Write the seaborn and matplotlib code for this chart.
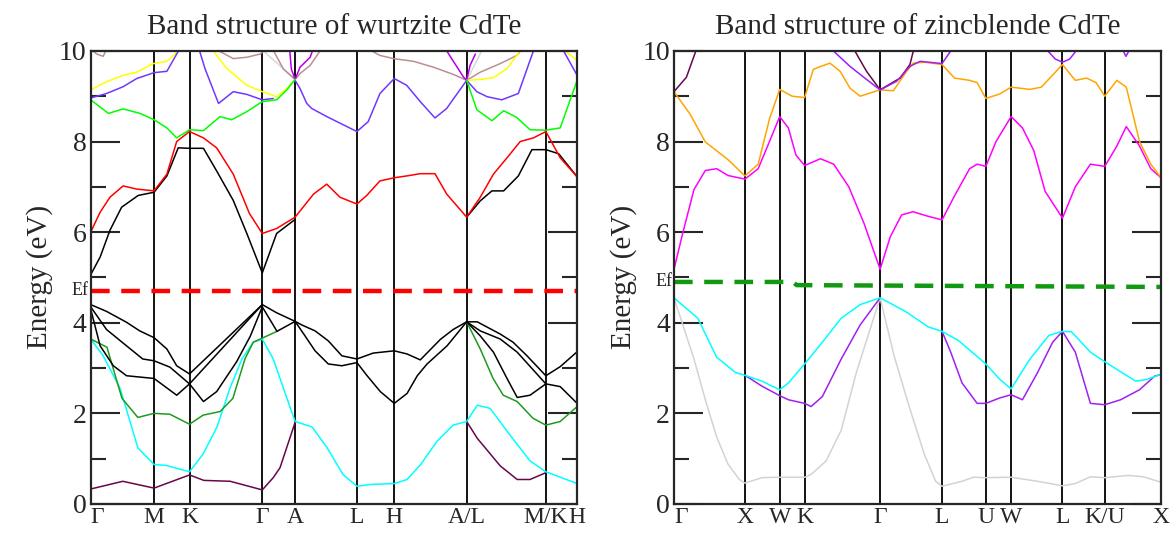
import matplotlib
matplotlib.use("Agg")
import matplotlib.pyplot as plt
import matplotlib.transforms as mtransforms
from matplotlib.ticker import MultipleLocator
import seaborn as sns

# ---------------- wurtzite (left panel) ----------------
wz_kpts = [0, 1.68, 2.62, 4.55, 5.42, 7.06, 8.05, 9.97, 12.07, 12.9]
wz_klabels = ["Γ", "M", "K", "Γ", "A", "L", "H", "A/L", "M/K", "H"]
wz_ef = 4.71

wz_maroon_a_k = [0, 0.85, 1.68, 2.62, 3.0, 3.7, 4.55, 4.84, 5.02, 5.42]
wz_maroon_a_E = [0.33, 0.5, 0.35, 0.64, 0.52, 0.5, 0.31, 0.58, 0.8, 1.8]
wz_maroon_b_k = [9.97, 10.25, 10.86, 11.31, 11.65, 12.07]
wz_maroon_b_E = [1.82, 1.45, 0.84, 0.54, 0.54, 0.69]

wz_cyan_k = [0, 0.33, 0.78, 1.25, 1.68, 2.0, 2.62, 2.98, 3.35, 3.69, 4.01, 4.31, 4.55,
             4.84, 5.02, 5.42, 5.87, 6.27, 6.69, 7.06, 7.41, 8.05, 8.39, 8.75, 9.19,
             9.61, 9.97, 10.25, 10.59, 11.12, 11.65, 12.07, 12.9]
wz_cyan_E = [3.64, 3.27, 2.55, 1.24, 0.87, 0.85, 0.71, 1.1, 1.7, 2.55, 3.2, 3.57, 3.64,
             3.2, 2.77, 1.82, 1.7, 1.24, 0.65, 0.39, 0.43, 0.45, 0.54, 0.87, 1.39,
             1.74, 1.82, 2.18, 2.11, 1.52, 0.95, 0.71, 0.45]

wz_dgreen_a_k = [0, 0.43, 0.83, 1.25, 1.68, 2.1, 2.62, 2.98, 3.43, 3.77, 4.09, 4.31, 4.55, 4.94]
wz_dgreen_a_E = [3.64, 3.46, 2.33, 1.91, 2.0, 1.98, 1.76, 1.96, 2.04, 2.33, 3.2, 3.57, 3.66, 3.81]
wz_dgreen_b_k = [9.97, 10.33, 10.67, 10.94, 11.31, 11.73, 12.07, 12.45, 12.9]
wz_dgreen_b_E = [4.02, 3.42, 2.77, 2.4, 2.26, 1.89, 1.74, 1.82, 2.15]

# valence black bands
wz_v1_k = [0, 0.42, 0.95, 1.3, 1.68, 2.02, 2.28, 2.62, 4.55]
wz_v1_E = [4.4, 4.25, 4.01, 3.82, 3.67, 3.42, 3.05, 2.87, 4.4]
wz_v2_k = [0, 0.42, 0.95, 1.38, 1.68, 2.1, 2.62, 4.55]
wz_v2_E = [4.35, 3.85, 3.49, 3.2, 3.16, 3.02, 2.65, 4.4]
wz_v3_k = [0, 0.25, 0.6, 0.95, 1.68, 2.28, 2.62, 2.99, 3.34, 3.87, 4.23, 4.55]
wz_v3_E = [4.3, 3.49, 3.05, 2.83, 2.77, 2.4, 2.65, 2.26, 2.48, 3.14, 3.7, 4.35]
wz_g1_k = [4.55, 4.93, 5.42]
wz_g1_E = [4.4, 4.22, 4.03]
wz_g2_k = [4.55, 4.94, 5.42]
wz_g2_E = [4.35, 3.81, 4.03]
wz_a1_k = [5.42, 5.6, 5.95, 6.3, 6.66, 7.06, 7.49, 8.05, 8.39, 8.74, 9.27, 9.61, 9.97]
wz_a1_E = [4.03, 3.95, 3.82, 3.6, 3.27, 3.2, 3.33, 3.38, 3.31, 3.18, 3.63, 3.85, 4.02]
wz_a2_k = [5.42, 5.65, 5.95, 6.3, 6.66, 7.06, 7.33, 7.68, 8.05, 8.39, 8.66, 8.92, 9.45, 9.97]
wz_a2_E = [4.03, 3.75, 3.38, 3.09, 3.05, 3.12, 2.83, 2.48, 2.22, 2.44, 2.83, 3.09, 3.49, 4.02]
wz_m1_k = [9.97, 10.25, 10.52, 10.86, 11.2, 11.57, 12.07, 12.45, 12.9]
wz_m1_E = [4.02, 4.02, 3.9, 3.75, 3.57, 3.27, 2.83, 3.03, 3.36]
wz_m2_k = [9.97, 10.33, 10.86, 11.31, 12.07, 12.45, 12.9]
wz_m2_E = [4.02, 3.82, 3.64, 3.35, 2.65, 2.59, 2.22]
wz_m3_k = [9.97, 10.33, 10.68, 11.04, 11.31, 11.65, 12.07]
wz_m3_E = [4.02, 3.71, 3.35, 2.77, 2.35, 2.4, 2.65]

# conduction bands
wz_c1_k = [0, 0.25, 0.51, 0.82, 1.26, 1.68, 2.02, 2.32, 2.62, 2.99, 3.34, 3.78, 4.14, 4.55, 4.93, 5.42]
wz_c1_E = [5.06, 5.45, 6.04, 6.55, 6.81, 6.88, 7.24, 7.86, 7.85, 7.85, 7.35, 6.7, 5.97, 5.1, 5.97, 6.28]
wz_c2_k = [9.97, 10.33, 10.64, 10.95, 11.34, 11.7, 12.07, 12.41, 12.9]
wz_c2_E = [6.33, 6.69, 6.91, 6.91, 7.24, 7.82, 7.82, 7.73, 7.22]
wz_red_k = [0, 0.25, 0.51, 0.86, 1.22, 1.68, 2.02, 2.28, 2.62, 2.99, 3.34, 3.78, 4.21, 4.55,
            4.93, 5.42, 5.91, 6.26, 6.61, 7.06, 7.32, 7.67, 8.05, 8.38, 8.74, 9.13, 9.44,
            9.97, 10.33, 10.68, 11.04, 11.39, 11.74, 12.07, 12.45, 12.9]
wz_red_E = [6.0, 6.44, 6.77, 7.02, 6.95, 6.91, 7.28, 8.0, 8.22, 8.08, 7.86, 7.28, 6.41, 5.97,
            6.08, 6.33, 6.84, 7.06, 6.77, 6.62, 6.81, 7.13, 7.2, 7.24, 7.29, 7.29, 6.84,
            6.33, 6.77, 7.28, 7.64, 8.0, 8.08, 8.22, 7.64, 7.22]
wz_green_a_k = [0, 0.47, 0.86, 1.31, 1.68, 2.02, 2.28, 2.62, 2.99, 3.43, 3.74, 4.14, 4.55, 4.93, 5.2, 5.42]
wz_green_a_E = [8.92, 8.62, 8.72, 8.62, 8.48, 8.3, 8.08, 8.26, 8.24, 8.55, 8.48, 8.66, 8.88, 8.92, 9.14, 9.37]
wz_green_b_k = [9.97, 10.24, 10.64, 10.95, 11.3, 11.65, 12.07, 12.45, 12.9]
wz_green_b_E = [9.35, 8.7, 8.46, 8.68, 8.53, 8.26, 8.25, 8.3, 9.35]
wz_blue_a_k = [0, 0.42, 0.86, 1.22, 1.68, 2.02, 2.28, 2.4]
wz_blue_a_E = [8.96, 9.06, 9.21, 9.39, 9.52, 9.55, 9.93, 10.1]
wz_blue_b_k = [2.85, 3.03, 3.39, 3.78, 4.14, 4.55, 4.84]
wz_blue_b_E = [10.1, 9.61, 8.84, 9.1, 9.04, 8.92, 8.95]
wz_blue_c_k = [5.42, 5.55, 5.73, 5.86, 6.26, 7.06, 7.36, 7.67, 8.05, 8.38, 8.74, 9.13,
               9.44, 9.97, 10.24, 10.51, 10.9, 11.34, 11.74, 11.8]
wz_blue_c_E = [9.35, 9.17, 8.84, 8.73, 8.55, 8.22, 8.44, 9.06, 9.39, 9.24, 8.88, 8.52,
               8.73, 9.35, 9.1, 8.99, 8.92, 9.06, 10.0, 10.1]
wz_blue_d_k = [12.54, 12.9]
wz_blue_d_E = [10.0, 9.46]
wz_yellow_a_k = [0, 0.42, 0.86, 1.22, 1.66, 2.02, 2.24, 2.3]
wz_yellow_a_E = [9.14, 9.32, 9.46, 9.53, 9.72, 9.77, 9.93, 10.1]
wz_yellow_b_k = [3.15, 3.25, 3.61, 4.14, 4.55, 4.93, 5.2, 5.42]
wz_yellow_b_E = [10.1, 10.0, 9.61, 9.24, 9.1, 8.99, 9.17, 9.37]
wz_yellow_c_k = [9.97, 10.33, 10.68, 11.04, 11.3, 11.4]
wz_yellow_c_E = [9.35, 9.37, 9.41, 9.61, 9.9, 10.05]
wz_yellow_d_k = [12.58, 12.9]
wz_yellow_d_E = [10.0, 9.79]
wz_brown_a_k = [0.06, 0.16, 0.33, 0.4]
wz_brown_a_E = [10.0, 9.93, 9.88, 10.0]
wz_brown_b_k = [3.4, 3.78, 4.14, 4.49, 4.6]
wz_brown_b_E = [10.0, 9.83, 9.86, 9.93, 10.0]
wz_brown_c_k = [4.85, 5.11, 5.42, 5.55, 5.82, 6.0, 6.08]
wz_brown_c_E = [10.0, 9.6, 9.37, 9.5, 9.68, 9.9, 10.0]
wz_brown_d_k = [7.45, 7.67, 8.03, 8.56, 9.09, 9.62, 9.97, 10.33, 10.86, 11.3, 11.4]
wz_brown_d_E = [10.0, 9.9, 9.83, 9.77, 9.64, 9.48, 9.35, 9.53, 9.72, 9.9, 10.0]
wz_grey_a_k = [4.58, 5.42]
wz_grey_a_E = [10.0, 9.37]
wz_grey_b_k = [9.97, 10.37]
wz_grey_b_E = [9.35, 10.0]
wz_violet_a_k = [5.28, 5.32, 5.42, 5.55, 5.82, 5.88]
wz_violet_a_E = [10.0, 9.6, 9.37, 9.64, 9.86, 10.0]
wz_violet_b_k = [9.44, 9.88, 9.97, 10.06, 10.2]
wz_violet_b_E = [10.0, 9.43, 9.35, 9.68, 9.93]

# ---------------- zincblende (right panel) ----------------
zb_kpts = [0, 1.88, 2.80, 3.46, 5.46, 7.10, 8.26, 8.93, 10.29, 11.41, 12.9]
zb_klabels = ["Γ", "X", "W", "K", "Γ", "L", "U", "W", "L", "K/U", "X"]
zb_ef_k = [0, 3.15, 3.25, 12.9]
zb_ef_E = [4.90, 4.90, 4.83, 4.79]

zb_grey_k = [0, 0.53, 0.83, 1.13, 1.43, 1.73, 1.88, 2.33, 2.8, 3.46, 3.63, 4.03, 4.43, 4.83,
             5.23, 5.46, 5.83, 6.23, 6.63, 6.93, 7.1, 7.63, 7.93, 8.26, 8.93, 9.63, 10.29,
             10.63, 11.03, 11.41, 12.03, 12.43, 12.9]
zb_grey_E = [4.55, 3.2, 2.3, 1.48, 0.88, 0.54, 0.46, 0.58, 0.59, 0.59, 0.65, 0.95, 1.63, 2.9,
             3.95, 4.55, 3.27, 2.15, 1.1, 0.5, 0.39, 0.5, 0.59, 0.58, 0.59, 0.5, 0.4,
             0.45, 0.6, 0.58, 0.63, 0.6, 0.48]
zb_purple_a_k = [1.88, 2.33, 2.8, 3.03, 3.46, 3.63, 3.93, 4.43, 4.93, 5.46]
zb_purple_a_E = [2.84, 2.6, 2.39, 2.3, 2.22, 2.15, 2.37, 3.2, 3.95, 4.55]
zb_purple_b_k = [7.1, 7.33, 7.63, 8.03, 8.26, 8.63, 8.93, 9.23, 9.63, 10.03, 10.29, 10.63,
                 11.03, 11.41, 11.83, 12.33, 12.73, 12.9]
zb_purple_b_E = [3.81, 3.35, 2.67, 2.22, 2.22, 2.34, 2.41, 2.3, 2.9, 3.57, 3.81, 3.35,
                 2.22, 2.19, 2.3, 2.52, 2.82, 2.86]
zb_cyan_k = [0, 0.63, 1.13, 1.63, 1.88, 2.33, 2.8, 3.03, 3.46, 3.93, 4.43, 4.93, 5.46, 6.13,
             6.73, 7.1, 7.53, 8.26, 8.63, 8.93, 9.43, 9.93, 10.29, 10.53, 11.03, 11.41,
             11.73, 12.23, 12.53, 12.9]
zb_cyan_E = [4.55, 4.1, 3.24, 2.9, 2.84, 2.71, 2.52, 2.67, 3.09, 3.57, 4.1, 4.4, 4.55, 4.25,
             3.91, 3.81, 3.61, 3.09, 2.75, 2.54, 3.2, 3.72, 3.81, 3.8, 3.35, 3.14,
             2.97, 2.71, 2.75, 2.86]
zb_magenta_k = [0, 0.23, 0.53, 0.83, 1.13, 1.43, 1.88, 2.23, 2.53, 2.8, 3.03, 3.23, 3.46, 3.88,
                4.23, 4.63, 5.03, 5.46, 5.73, 6.03, 6.33, 6.73, 7.1, 7.43, 7.83, 8.03, 8.26,
                8.53, 8.93, 9.23, 9.53, 9.83, 10.29, 10.63, 11.03, 11.41, 11.73, 11.98,
                12.33, 12.63, 12.9]
zb_magenta_E = [5.18, 5.97, 6.94, 7.36, 7.4, 7.25, 7.17, 7.4, 8.0, 8.55, 8.3, 7.7, 7.47, 7.62,
                7.5, 7.0, 6.2, 5.18, 5.9, 6.38, 6.45, 6.35, 6.27, 6.8, 7.4, 7.5, 7.45,
                8.0, 8.55, 8.3, 7.8, 6.9, 6.31, 7.0, 7.5, 7.45, 7.9, 8.33,
                7.9, 7.4, 7.2]
zb_orange_k = [0, 0.43, 0.83, 1.43, 1.88, 2.23, 2.53, 2.8, 3.13, 3.46, 3.69, 3.83, 4.13, 4.4,
               4.66, 4.93, 5.46, 5.81, 6.16, 6.34, 6.63, 7.1, 7.43, 7.83, 8.03, 8.26, 8.63,
               8.93, 9.43, 9.73, 10.29, 10.63, 10.93, 11.18, 11.41, 11.73, 11.98, 12.33,
               12.63, 12.9]
zb_orange_E = [9.1, 8.6, 7.99, 7.6, 7.24, 7.5, 8.5, 9.15, 9.0, 8.97, 9.59, 9.64, 9.73, 9.55,
               9.18, 9.0, 9.14, 9.12, 9.55, 9.73, 9.75, 9.7, 9.4, 9.35, 9.3, 8.95, 9.05,
               9.2, 9.15, 9.2, 9.7, 9.35, 9.4, 9.3, 9.0, 9.35, 9.2, 8.0,
               7.5, 7.2]
zb_violet_a_k = [4.22, 4.66, 5.1, 5.46, 5.9, 6.25, 6.52, 7.1, 7.33]
zb_violet_a_E = [10.0, 9.66, 9.37, 9.14, 9.33, 9.66, 9.77, 9.72, 10.0]
zb_violet_b_k = [9.9, 10.1, 10.29, 10.48, 10.65]
zb_violet_b_E = [10.0, 9.82, 9.75, 9.82, 10.0]
zb_violet_c_k = [11.9, 11.97, 12.05]
zb_violet_c_E = [10.0, 9.88, 10.0]
zb_maroon_a_k = [0, 0.33, 0.58]
zb_maroon_a_E = [9.1, 9.42, 10.0]
zb_maroon_b_k = [4.79, 5.1, 5.46, 5.99, 6.25, 6.34]
zb_maroon_b_E = [10.0, 9.55, 9.14, 9.4, 9.7, 10.0]

MAROON = "#67074a"
wz_bands = [
    (wz_grey_a_k, wz_grey_a_E, "#d8d8d8"), (wz_grey_b_k, wz_grey_b_E, "#d8d8d8"),
    (wz_brown_a_k, wz_brown_a_E, "#bc8f8f"), (wz_brown_b_k, wz_brown_b_E, "#bc8f8f"),
    (wz_brown_c_k, wz_brown_c_E, "#bc8f8f"), (wz_brown_d_k, wz_brown_d_E, "#bc8f8f"),
    (wz_violet_a_k, wz_violet_a_E, "#b400e6"), (wz_violet_b_k, wz_violet_b_E, "#b400e6"),
    (wz_yellow_a_k, wz_yellow_a_E, "#ffff00"), (wz_yellow_b_k, wz_yellow_b_E, "#ffff00"),
    (wz_yellow_c_k, wz_yellow_c_E, "#ffff00"), (wz_yellow_d_k, wz_yellow_d_E, "#ffff00"),
    (wz_blue_a_k, wz_blue_a_E, "#7038ff"), (wz_blue_b_k, wz_blue_b_E, "#7038ff"),
    (wz_blue_c_k, wz_blue_c_E, "#7038ff"), (wz_blue_d_k, wz_blue_d_E, "#7038ff"),
    (wz_green_a_k, wz_green_a_E, "#00ff00"), (wz_green_b_k, wz_green_b_E, "#00ff00"),
    (wz_c1_k, wz_c1_E, "black"), (wz_c2_k, wz_c2_E, "black"),
    (wz_red_k, wz_red_E, "#ff0000"),
    (wz_maroon_a_k, wz_maroon_a_E, MAROON), (wz_maroon_b_k, wz_maroon_b_E, MAROON),
    (wz_cyan_k, wz_cyan_E, "#00ffff"),
    (wz_dgreen_a_k, wz_dgreen_a_E, "#1e9b1e"), (wz_dgreen_b_k, wz_dgreen_b_E, "#1e9b1e"),
    (wz_v1_k, wz_v1_E, "black"), (wz_v2_k, wz_v2_E, "black"), (wz_v3_k, wz_v3_E, "black"),
    (wz_g1_k, wz_g1_E, "black"), (wz_g2_k, wz_g2_E, "black"),
    (wz_a1_k, wz_a1_E, "black"), (wz_a2_k, wz_a2_E, "black"),
    (wz_m1_k, wz_m1_E, "black"), (wz_m2_k, wz_m2_E, "black"), (wz_m3_k, wz_m3_E, "black"),
]
zb_bands = [
    (zb_grey_k, zb_grey_E, "#d3d3d3"),
    (zb_purple_a_k, zb_purple_a_E, "#a020f0"), (zb_purple_b_k, zb_purple_b_E, "#a020f0"),
    (zb_cyan_k, zb_cyan_E, "#00ffff"),
    (zb_magenta_k, zb_magenta_E, "#ff00ff"),
    (zb_orange_k, zb_orange_E, "#ffa500"),
    (zb_maroon_a_k, zb_maroon_a_E, MAROON), (zb_maroon_b_k, zb_maroon_b_E, MAROON),
    (zb_violet_a_k, zb_violet_a_E, "#a020f0"), (zb_violet_b_k, zb_violet_b_E, "#a020f0"),
    (zb_violet_c_k, zb_violet_c_E, "#a020f0"),
]

sns.set_style("ticks")
plt.rcParams["font.family"] = ["Liberation Serif", "DejaVu Serif"]


def draw_panel(ax, bands, kpts, klabels, ef_k, ef_E, ef_color, title):
    for k, e, c in bands:
        sns.lineplot(x=k, y=e, ax=ax, color=c, linewidth=1.1, sort=False,
                     estimator=None, legend=False)
    for kp in kpts:
        ax.axvline(kp, color="black", linewidth=1.3, zorder=1)
    sns.lineplot(x=ef_k, y=ef_E, ax=ax, color=ef_color, linewidth=3.2, sort=False,
                 estimator=None, legend=False)
    ax.lines[-1].set_dashes((4.2, 2.6))
    ax.set_xlim(kpts[0], kpts[-1])
    ax.set_ylim(0, 10)
    ax.set_xticks(kpts)
    ax.set_xticklabels(klabels, fontsize=17)
    ax.get_xticklabels()[0].set_horizontalalignment("left")
    ax.tick_params(axis="x", length=0, pad=2)
    ax.yaxis.set_major_locator(MultipleLocator(2))
    ax.yaxis.set_minor_locator(MultipleLocator(1))
    ax.tick_params(axis="y", which="major", direction="in", length=21, width=1.5,
                   right=True, labelsize=20, pad=3)
    ax.tick_params(axis="y", which="minor", direction="in", length=11, width=1.5, right=True)
    ax.set_xlabel("")
    ax.set_ylabel("Energy (eV)", fontsize=21, labelpad=4)
    ax.set_title(title, fontsize=21, pad=12)
    for s in ax.spines.values():
        s.set_linewidth(1.6)
    trans = mtransforms.blended_transform_factory(ax.transAxes, ax.transData)
    ax.text(-0.004, ef_E[0], "Ef", transform=trans, ha="right", va="center", fontsize=13)


fig = plt.figure(figsize=(11.75, 5.33), dpi=100)
ax1 = fig.add_axes([0.0772, 0.0545, 0.4140, 0.850])
ax2 = fig.add_axes([0.5736, 0.0545, 0.4145, 0.850])

draw_panel(ax1, wz_bands, wz_kpts, wz_klabels, [wz_kpts[0], wz_kpts[-1]], [wz_ef, wz_ef],
           "#ff0000", "Band structure of wurtzite CdTe")
draw_panel(ax2, zb_bands, zb_kpts, zb_klabels, zb_ef_k, zb_ef_E,
           "#119911", "Band structure of zincblende CdTe")

fig.savefig("out.png", dpi=100)
